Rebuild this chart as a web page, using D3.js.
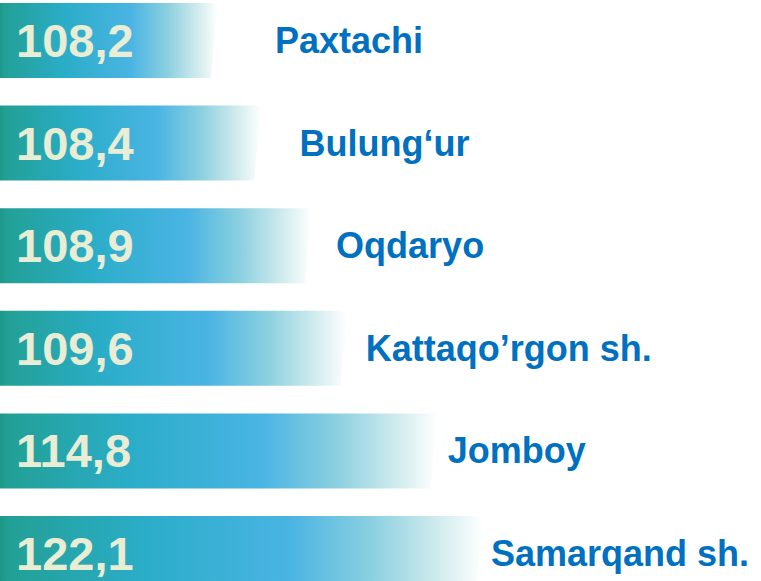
<!DOCTYPE html>
<meta charset="utf-8">
<head>
  <title>Districts</title>
</head>

<style>
body {
  margin: 0;
  background: #fff;
  font-family: "Liberation Sans", Arial, sans-serif;
}
</style>

<body>
  <div id="chart"></div>

  <script src="https://cdnjs.cloudflare.com/ajax/libs/d3/7.8.5/d3.min.js"></script>

  <script>
var districts = ['Paxtachi', 'Bulung\u2018ur', 'Oqdaryo', 'Kattaqo\u2019rgon sh.', 'Jomboy', 'Samarqand sh.'];
var values = [108.2, 108.4, 108.9, 109.6, 114.8, 122.1];
var valueLabels = ['108,2', '108,4', '108,9', '109,6', '114,8', '122,1'];

var width = 761, height = 581;
var barBase = 108.0, labelBase = 107.8;
var slant = 7;

var svg = d3.select('#chart').append('svg')
  .attr('width', width)
  .attr('height', height);

var grad = svg.append('defs').append('linearGradient')
  .attr('id', 'barFill')
  .attr('x1', 0).attr('x2', 1).attr('y1', 0).attr('y2', 0);

grad.selectAll('stop')
  .data([
    [0, '#1d9887'],
    [0.02, '#22a096'],
    [0.3, '#2badc9'],
    [0.6, '#4ab4e3'],
    [0.77, '#8bd0e0'],
    [0.91, '#d2ecee'],
    [1, '#ffffff']
  ])
  .enter().append('stop')
  .attr('offset', function(d) { return d[0]; })
  .attr('stop-color', function(d) { return d[1]; });

var y = d3.scaleBand()
  .domain(districts)
  .range([3, 591])
  .paddingInner(0.269)
  .paddingOuter(0)
  .align(0);

// bar length grows with the log of the value above a base
var x = d3.scaleLog()
  .domain([values[0] - barBase, values[values.length - 1] - barBase])
  .range([218, 483]);

var xLabel = d3.scaleLog()
  .domain([values[0] - labelBase, values[values.length - 1] - labelBase])
  .range([275, 491]);

var rows = svg.selectAll('g.row')
  .data(districts)
  .enter().append('g')
  .attr('class', 'row')
  .attr('transform', function(d) { return 'translate(0,' + y(d) + ')'; });

rows.append('path')
  .attr('fill', 'url(#barFill)')
  .attr('d', function(d, i) {
    var w = x(values[i] - barBase), h = y.bandwidth();
    return 'M0,0H' + w + 'L' + (w - slant) + ',' + h + 'H0Z';
  });

rows.append('text')
  .attr('x', 16)
  .attr('y', y.bandwidth() / 2)
  .attr('dy', '0.35em')
  .attr('fill', '#e8edd3')
  .style('font-size', '47px')
  .style('font-weight', 'bold')
  .text(function(d, i) { return valueLabels[i]; });

rows.append('text')
  .attr('x', function(d, i) { return xLabel(values[i] - labelBase); })
  .attr('y', y.bandwidth() / 2)
  .attr('dy', '0.35em')
  .attr('fill', '#0070c0')
  .style('font-size', '36px')
  .style('font-weight', 'bold')
  .text(function(d) { return d; });
  </script>
</body>
</html>
